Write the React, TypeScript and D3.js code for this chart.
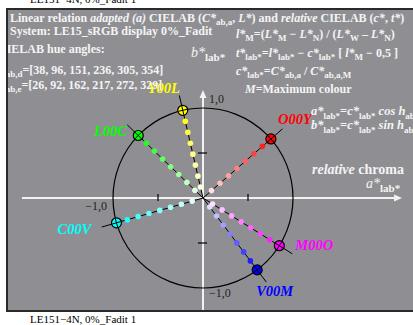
import React from 'react';
import * as d3 from 'd3';

// ---- data ----
const hueLabels = ['O00Y', 'Y00L', 'L00C', 'C00V', 'V00M', 'M00O'];
const hueAngles = [41, 103, 136, 196, 307, 328];
const hueColors = ['#ff0000', '#ffff00', '#00ff00', '#00ffff', '#0000ff', '#ff00ff'];
const hueD = [38, 96, 151, 236, 305, 354];
const hueE = [26, 92, 162, 217, 272, 329];
const dotFractions = [0.125, 0.25, 0.375, 0.5, 0.625, 0.75, 0.875];
const tickValues = [-0.5, 0.5];
const axisLabels = ['1,0', '\u22121,0', '\u22121,0'];

// ---- layout ----
const W = 413, H = 325;
const cx = 203, cy = 198, R = 90;
const labelOffsets: [number, number][] = [[7, -15], [-35, -17], [-44, 1], [-59, 11], [-1, 26], [16, 4]];
const FONT = '"Liberation Serif", "Times New Roman", serif';
const TXT = '#f4f4f4';

type Seg = { t: string; i?: boolean; b?: boolean; sub?: boolean };

function Rich({ x, y, segs, size, bold, fill, anchor }: { x: number; y: number; segs: Seg[]; size: number; bold?: boolean; fill: string; anchor?: string }) {
  const subSize = Math.round(size * 0.75);
  const shift = Math.round(size * 0.28);
  let inSub = false;
  return (
    <text x={x} y={y} fontFamily={FONT} fontSize={size} fontWeight={bold ? 'bold' : 'normal'} fill={fill} textAnchor={anchor || 'start'}>
      {segs.map((s, k) => {
        let dy = 0;
        if (s.sub && !inSub) { dy = shift; inSub = true; }
        else if (!s.sub && inSub) { dy = -shift; inSub = false; }
        return (
          <tspan key={k} dy={dy || undefined} fontStyle={s.i ? 'italic' : undefined}
            fontWeight={s.b === false ? 'normal' : s.b ? 'bold' : undefined}
            fontSize={s.sub ? subSize : undefined}>{s.t}</tspan>
        );
      })}
    </text>
  );
}

export default function App() {
  const x = d3.scaleLinear().domain([-1, 1]).range([cx - R, cx + R]);
  const y = d3.scaleLinear().domain([-1, 1]).range([cy + R, cy - R]);
  const pt = (h: number, c: number): [number, number] => {
    const a = (h * Math.PI) / 180;
    return [x(c * Math.cos(a)), y(c * Math.sin(a))];
  };
  const circlePath = d3.arc()({ innerRadius: R, outerRadius: R, startAngle: 0, endAngle: 2 * Math.PI }) as string;

  return (
    <svg width={W} height={H} style={{ position: 'absolute', left: 0, top: 0 }}>
      <defs>
        <clipPath id="box"><rect x={8} y={10} width={W} height={300} /></clipPath>
      </defs>
      <rect x={0} y={0} width={W} height={H} fill="#ffffff" />
      <text x={30} y={3} fontFamily={FONT} fontSize={11} fill="#000">LE151{'\u2212'}4N, 0%_Fadit 1</text>
      <rect x={7} y={9} width={W} height={302} fill="#8f8f93" stroke="#2a2a2a" strokeWidth={2} />
      <text x={30} y={323} fontFamily={FONT} fontSize={11} fill="#000">LE151{'\u2212'}4N, 0%_Fadit 1</text>

      <g clipPath="url(#box)">
        {/* axes */}
        <line x1={22} x2={397} y1={y(0)} y2={y(0)} stroke="#f2f2f2" strokeWidth={2} />
        <path d={`M402,${y(0)} L394,${y(0) - 3.5} L394,${y(0) + 3.5} Z`} fill="#f2f2f2" />
        <line x1={x(0)} x2={x(0)} y1={312} y2={95} stroke="#f2f2f2" strokeWidth={2} />
        <path d={`M${x(0)},90 L${x(0) - 3.5},98 L${x(0) + 3.5},98 Z`} fill="#f2f2f2" />
        {tickValues.map((v, k) => (
          <g key={k}>
            <line x1={x(v)} x2={x(v)} y1={y(0) - 4} y2={y(0) + 3} stroke="#000" strokeWidth={1.2} />
            <line x1={x(0) - 5} x2={x(0) + 4} y1={y(v)} y2={y(v)} stroke="#000" strokeWidth={1.2} />
          </g>
        ))}
        <text x={209} y={103} fontFamily={FONT} fontSize={12} fill="#222">{axisLabels[0]}</text>
        <text x={107} y={210} fontFamily={FONT} fontSize={12} fill="#222" textAnchor="end">{axisLabels[1]}</text>
        <text x={209} y={297} fontFamily={FONT} fontSize={12} fill="#222">{axisLabels[2]}</text>

        {/* unit circle */}
        <path d={circlePath} transform={`translate(${x(0)},${y(0)})`} fill="none" stroke="#000" strokeWidth={1.2} />

        {/* rays */}
        {hueAngles.map((h, k) => {
          const [ex, ey] = pt(h, 1.17);
          return <line key={'r' + k} x1={x(0)} y1={y(0)} x2={ex} y2={ey} stroke="#000" strokeWidth={1} />;
        })}
        {hueAngles.map((h, k) =>
          dotFractions.map((f, j) => {
            const [px, py] = pt(h, f);
            return <circle key={'d' + k + '-' + j} cx={px} cy={py} r={2.8} fill={d3.interpolateRgb('#ffffff', hueColors[k])(f)} />;
          })
        )}
        {hueAngles.map((h, k) => {
          const [mx, my] = pt(h, 1);
          const a = (h * Math.PI) / 180;
          const tx = -Math.sin(a) * 4.5, ty = -Math.cos(a) * 4.5;
          const rx = Math.cos(a) * 4.5, ry = -Math.sin(a) * 4.5;
          return (
            <g key={'m' + k}>
              <circle cx={mx} cy={my} r={5} fill={hueColors[k]} stroke="#000" strokeWidth={1.2} />
              <line x1={mx - tx} y1={my - ty} x2={mx + tx} y2={my + ty} stroke="#000" strokeWidth={1} />
              <line x1={mx - rx} y1={my - ry} x2={mx + rx} y2={my + ry} stroke="#000" strokeWidth={1} />
            </g>
          );
        })}
        {hueLabels.map((l, k) => {
          const [mx, my] = pt(hueAngles[k], 1);
          return (
            <text key={'l' + k} x={mx + labelOffsets[k][0]} y={my + labelOffsets[k][1]} fontFamily={FONT} fontSize={14.5}
              fontWeight="bold" fontStyle="italic" fill={hueColors[k]}>{l}</text>
          );
        })}

        {/* titles */}
        <Rich x={10} y={22} size={12} bold fill={TXT} segs={[
          { t: 'Linear relation ' }, { t: 'adapted (a)', i: true }, { t: ' CIELAB (' }, { t: 'C*', i: true }, { t: 'ab,a', sub: true },
          { t: ', ' }, { t: 'L*', i: true }, { t: ') and ' }, { t: 'relative', i: true }, { t: ' CIELAB (' }, { t: 'c*', i: true },
          { t: ', ' }, { t: 't*', i: true }, { t: ')' }]} />
        <Rich x={10} y={35} size={12} bold fill={TXT} segs={[{ t: 'System: LE15_sRGB display 0%_Fadit' }]} />
        <Rich x={-2} y={53} size={12} bold fill={TXT} segs={[{ t: 'CIELAB hue angles:' }]} />
        <Rich x={-1} y={74} size={12} bold fill={TXT} segs={[{ t: 'h', i: true }, { t: 'ab,d', sub: true }, { t: '=[' + hueD.join(', ') + ']' }]} />
        <Rich x={-1} y={89} size={12} bold fill={TXT} segs={[{ t: 'h', i: true }, { t: 'ab,e', sub: true }, { t: '=[' + hueE.join(', ') + ']' }]} />

        <Rich x={236} y={38} size={12} bold fill={TXT} segs={[
          { t: 'l*', i: true }, { t: 'M', sub: true }, { t: '=(' }, { t: 'L*', i: true }, { t: 'M', sub: true }, { t: ' \u2212 ' },
          { t: 'L*', i: true }, { t: 'N', sub: true }, { t: ') / (' }, { t: 'L*', i: true }, { t: 'W', sub: true }, { t: ' \u2013 ' },
          { t: 'L*', i: true }, { t: 'N', sub: true }, { t: ')' }]} />
        <Rich x={191} y={57} size={14} bold fill={TXT} segs={[{ t: 'b*', i: true, b: false }, { t: 'lab*', sub: true }]} />
        <Rich x={236} y={57} size={12} bold fill={TXT} segs={[
          { t: 't*', i: true }, { t: 'lab*', sub: true }, { t: '=' }, { t: 'l*', i: true }, { t: 'lab*', sub: true }, { t: ' \u2212 ' },
          { t: 'c*', i: true }, { t: 'lab*', sub: true }, { t: ' [ ' }, { t: 'l*', i: true }, { t: 'M', sub: true }, { t: ' \u2212 0,5 ]' }]} />
        <Rich x={236} y={75} size={12} bold fill={TXT} segs={[
          { t: 'c*', i: true }, { t: 'lab*', sub: true }, { t: '=' }, { t: 'C*', i: true }, { t: 'ab,a', sub: true }, { t: ' / ' },
          { t: 'C*', i: true }, { t: 'ab,a,M', sub: true }]} />
        <Rich x={245} y={93} size={12} bold fill={TXT} segs={[{ t: 'M', i: true }, { t: '=Maximum colour' }]} />
        <Rich x={311} y={115} size={12.5} bold fill={TXT} segs={[
          { t: 'a*', i: true }, { t: 'lab*', sub: true }, { t: '=' }, { t: 'c*', i: true }, { t: 'lab*', sub: true }, { t: ' ' },
          { t: 'cos h', i: true }, { t: 'ab', sub: true }]} />
        <Rich x={311} y={129} size={12.5} bold fill={TXT} segs={[
          { t: 'b*', i: true }, { t: 'lab*', sub: true }, { t: '=' }, { t: 'c*', i: true }, { t: 'lab*', sub: true }, { t: ' ' },
          { t: 'sin h', i: true }, { t: 'ab', sub: true }]} />
        <Rich x={312} y={174} size={14} bold fill={TXT} segs={[{ t: 'relative', i: true }, { t: ' chroma' }]} />
        <Rich x={366} y={188} size={14} bold fill={TXT} segs={[{ t: 'a*', i: true, b: false }, { t: 'lab*', sub: true }]} />
      </g>
    </svg>
  );
}
